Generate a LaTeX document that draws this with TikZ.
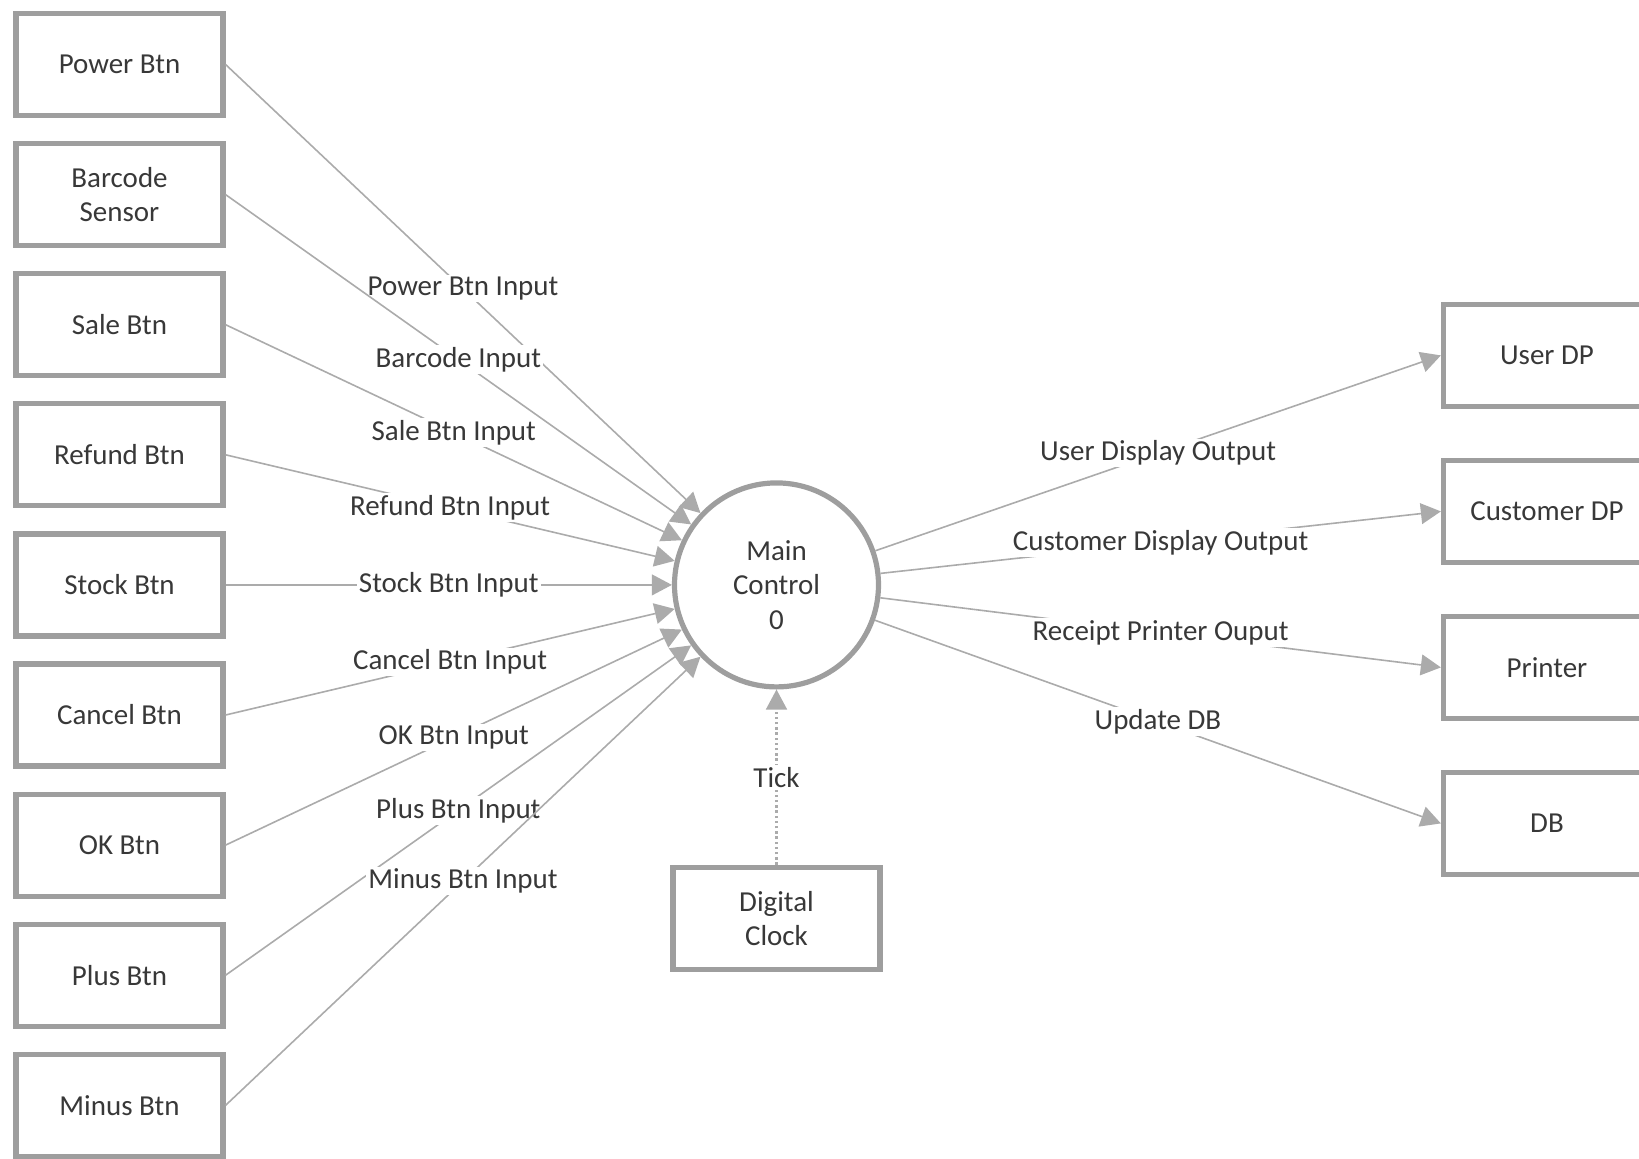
\documentclass[tikz,border=0pt]{standalone}
\usepackage{fontspec}
\setmainfont{Carlito}
\usetikzlibrary{positioning, arrows.meta}

\definecolor{boxgray}{HTML}{9E9E9E}
\definecolor{linegray}{HTML}{ABABAB}
\definecolor{textgray}{HTML}{383838}

\tikzset{
    device/.style={rectangle, draw=boxgray, line width=1.3mm, minimum width=5.175cm, minimum height=2.55cm, align=center, text=textgray},
    process/.style={circle, draw=boxgray, line width=1.3mm, minimum size=5.1cm, align=center, text=textgray},
    flow/.style={draw=linegray, line width=0.4mm, -{Triangle[length=5mm, width=5.2mm]}},
    clockflow/.style={flow, line width=0.55mm, dash pattern=on 0.6mm off 0.7mm},
    flowlabel/.style={fill=white, inner sep=0.5mm, text=textgray}
}

\begin{document}
\begin{tikzpicture}[node distance=3.2525cm, on grid, every node/.style={font=\fontsize{20.6pt}{24.5pt}\selectfont}]

        \useasboundingbox (0,0) rectangle (40.975,-28.975);

        % buttons and sensor
        \node[device] (power) at (2.9875,-1.6125) {Power Btn};
        \node[device] (barcode) [below = of power] {Barcode\\Sensor};
        \node[device] (sale) [below = of barcode] {Sale Btn};
        \node[device] (refund) [below = of sale] {Refund Btn};
        \node[device] (stock) [below = of refund] {Stock Btn};
        \node[device] (cancel) [below = of stock] {Cancel Btn};
        \node[device] (ok) [below = of cancel] {OK Btn};
        \node[device] (plus) [below = of ok] {Plus Btn};
        \node[device] (minus) [below = of plus] {Minus Btn};

        % main control
        \node[process] (main) [right = 16.425cm of stock] {Main\\Control\\0};

        % clock
        \node[device] (clock) [below = 8.3375cm of main] {Digital\\Clock};

        % outputs
        \node[device] (userdp) [above right = 5.7375cm and 19.2625cm of main] {User DP};
        \begin{scope}[node distance=3.9cm]

            \node[device] (customerdp) [below = of userdp] {Customer DP};
            \node[device] (printer) [below = of customerdp] {Printer};
            \node[device] (db) [below = of printer] {DB};

        \end{scope}

        % input paths
        \path(power.east) edge[flow] node[flowlabel] {Power Btn Input} (main);
        \path(barcode.east) edge[flow] node[flowlabel] {Barcode Input} (main);
        \path(sale.east) edge[flow] node[flowlabel] {Sale Btn Input} (main);
        \path(refund.east) edge[flow] node[flowlabel] {Refund Btn Input} (main);
        \path(stock.east) edge[flow] node[flowlabel] {Stock Btn Input} (main);
        \path(cancel.east) edge[flow] node[flowlabel] {Cancel Btn Input} (main);
        \path(ok.east) edge[flow] node[flowlabel] {OK Btn Input} (main);
        \path(plus.east) edge[flow] node[flowlabel] {Plus Btn Input} (main);
        \path(minus.east) edge[flow] node[flowlabel] {Minus Btn Input} (main);

        % clock path
        \path(clock) edge[clockflow] node[flowlabel] {Tick} (main);

        % output paths
        \path(main) edge[flow] node[flowlabel] {User Display Output} (userdp.west);
        \path(main) edge[flow] node[flowlabel] {Customer Display Output} (customerdp.west);
        \path(main) edge[flow] node[flowlabel] {Receipt Printer Ouput} (printer.west);
        \path(main) edge[flow] node[flowlabel] {Update DB} (db.west);

    \end{tikzpicture}
\end{document}
